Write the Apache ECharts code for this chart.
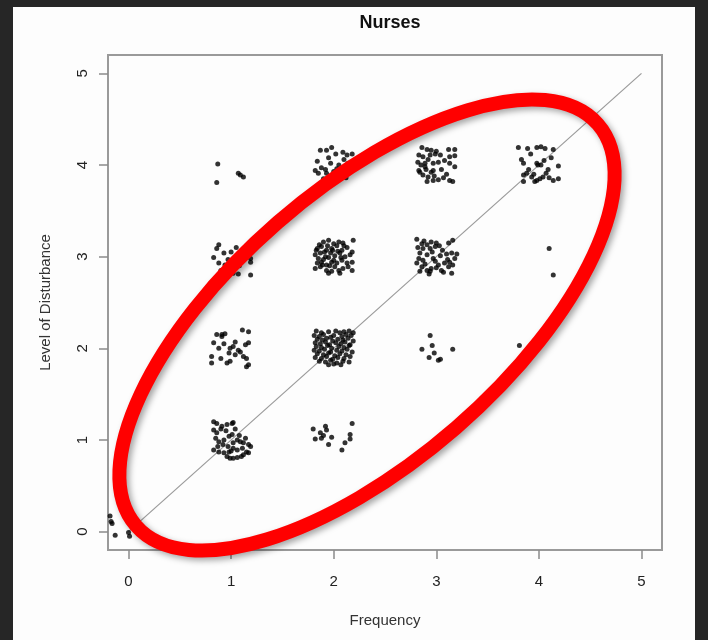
<!DOCTYPE html>
<html>
<head>
<meta charset="utf-8">
<script src="https://cdn.jsdelivr.net/npm/echarts@6/dist/echarts.min.js"></script>
<style>
  html, body { margin: 0; padding: 0; background: #262626; }
  #frame { position: absolute; left: 13px; top: 7px; width: 682px; height: 633px; background: #fdfdfd; }
  #chart { position: absolute; left: 0; top: 0; width: 708px; height: 640px; }
</style>
</head>
<body>
<div id="frame"></div>
<div id="chart"></div>
<script>
(function () {
// 刻度
var tickValues = [0, 1, 2, 3, 4, 5];
// 对角参考线
var refX = [0, 5];
var refY = [0, 5];

// 各组抖动点 (Frequency, Level of Disturbance)
var pts00 = [[-0.18, 0.17], [-0.17, 0.11], [-0.16, 0.09], [-0.13, -0.04], [0.00, -0.01], [0.01, -0.05]];
var pts11 = [[0.83, 1.20], [0.86, 1.18], [0.91, 1.15], [0.96, 1.17], [1.01, 1.18], [1.02, 1.19], [0.83, 1.11], [0.86, 1.08],
  [0.85, 1.02], [0.88, 0.98], [0.93, 1.00], [0.98, 1.04], [1.01, 1.06], [1.02, 0.97], [1.06, 1.00], [1.09, 0.98],
  [1.12, 0.97], [1.17, 0.95], [0.83, 0.89], [0.88, 0.87], [0.93, 0.86], [0.98, 0.87], [1.02, 0.91], [1.06, 0.89],
  [1.11, 0.91], [1.15, 0.87], [1.19, 0.93], [0.96, 0.82], [0.99, 0.80], [1.02, 0.80], [1.06, 0.81], [1.12, 0.84],
  [1.17, 0.86], [0.90, 1.12], [0.95, 1.10], [1.04, 1.12], [0.92, 0.95], [1.08, 1.05], [0.97, 0.93], [1.10, 0.82],
  [0.87, 0.93], [1.14, 1.02], [1.00, 0.88]];
var pts12 = [[0.86, 2.15], [0.91, 2.15], [0.94, 2.16], [1.11, 2.20], [1.17, 2.18], [0.83, 2.06], [0.93, 2.05], [1.04, 2.07],
  [1.14, 2.04], [1.17, 2.06], [0.88, 2.00], [0.99, 2.00], [1.02, 2.02], [1.09, 1.96], [0.81, 1.91], [0.90, 1.89],
  [0.98, 1.95], [1.04, 1.93], [1.12, 1.91], [1.15, 1.89], [0.81, 1.84], [0.96, 1.84], [0.99, 1.86], [1.15, 1.80],
  [1.17, 1.82], [0.91, 2.13], [1.07, 1.98]];
var pts13 = [[0.88, 3.13], [0.86, 3.09], [0.93, 3.04], [0.83, 2.99], [1.19, 2.98], [1.19, 2.94], [0.88, 2.93], [1.02, 2.82],
  [1.07, 2.81], [1.19, 2.80], [0.94, 2.91], [1.00, 3.05], [1.05, 3.10], [1.10, 3.00], [0.97, 2.97], [1.13, 3.06],
  [1.08, 2.90], [1.15, 3.12], [0.90, 2.85]];
var pts14 = [[0.87, 4.01], [0.86, 3.81], [1.07, 3.91], [1.09, 3.89], [1.12, 3.87]];
var pts21 = [[1.80, 1.12], [1.92, 1.15], [1.93, 1.11], [1.87, 1.08], [1.82, 1.01], [1.88, 1.02], [1.98, 1.03], [1.95, 0.95],
  [2.08, 0.89], [2.11, 0.97], [2.16, 1.06], [2.18, 1.18], [2.16, 1.01], [1.90, 1.05]];
var pts22 = [[1.83, 2.19], [1.88, 2.17], [1.95, 2.18], [2.02, 2.19], [2.06, 2.17], [2.10, 2.18], [2.15, 2.19], [2.19, 2.17],
  [1.81, 2.14], [1.86, 2.13], [1.90, 2.15], [1.97, 2.12], [2.00, 2.14], [2.08, 2.13], [2.12, 2.15], [2.17, 2.14],
  [1.84, 2.10], [1.89, 2.09], [1.93, 2.11], [1.99, 2.08], [2.04, 2.10], [2.09, 2.09], [2.14, 2.11], [2.19, 2.08],
  [1.82, 2.06], [1.87, 2.05], [1.92, 2.07], [1.96, 2.04], [2.02, 2.06], [2.07, 2.05], [2.11, 2.07], [2.16, 2.04],
  [1.83, 2.02], [1.88, 2.01], [1.94, 2.03], [1.98, 2.00], [2.05, 2.02], [2.10, 2.01], [2.15, 2.03],
  [1.81, 1.98], [1.86, 1.97], [1.91, 1.99], [1.97, 1.96], [2.03, 1.98], [2.08, 1.97], [2.13, 1.99], [2.18, 1.96],
  [1.84, 1.94], [1.90, 1.93], [1.95, 1.95], [2.01, 1.92], [2.06, 1.94], [2.12, 1.93],
  [1.82, 1.90], [1.88, 1.89], [1.93, 1.91], [1.99, 1.88], [2.04, 1.90], [2.10, 1.89], [2.16, 1.91],
  [1.86, 1.86], [1.92, 1.85], [1.97, 1.87], [2.03, 1.84], [2.09, 1.86], [2.15, 1.85],
  [1.95, 1.82], [2.00, 1.83], [2.07, 1.82]];
var pts23 = [[1.90, 3.16], [1.95, 3.18], [2.00, 3.14], [2.05, 3.16], [2.09, 3.15], [2.19, 3.18],
  [1.84, 3.09], [1.88, 3.11], [1.93, 3.07], [1.98, 3.09], [2.03, 3.12], [2.08, 3.07], [2.13, 3.10], [2.18, 3.05],
  [1.82, 3.02], [1.87, 3.04], [1.92, 3.00], [1.97, 3.04], [2.01, 3.01], [2.06, 3.04], [2.11, 3.00], [2.16, 3.02],
  [1.84, 2.93], [1.88, 2.94], [1.93, 2.91], [1.98, 2.94], [2.03, 2.93], [2.08, 2.96], [2.13, 2.93], [2.18, 2.94],
  [1.82, 2.87], [1.87, 2.89], [1.93, 2.85], [1.98, 2.84], [2.05, 2.85], [2.09, 2.87], [2.14, 2.89], [2.18, 2.85],
  [1.95, 2.82], [2.06, 2.82], [1.85, 2.98], [1.90, 2.97], [1.95, 2.99], [2.00, 2.96], [1.86, 3.13], [1.91, 3.05],
  [2.04, 3.06], [1.96, 2.90], [2.10, 3.12], [1.89, 2.91], [1.83, 3.07], [2.01, 2.89], [1.94, 3.12], [2.07, 2.99],
  [1.99, 3.07]];
var pts24 = [[1.87, 4.16], [1.93, 4.16], [1.98, 4.19], [2.09, 4.14], [2.13, 4.11], [1.82, 3.94], [1.85, 3.91], [1.92, 3.95],
  [1.97, 4.02], [2.03, 3.96], [2.08, 3.91], [1.98, 3.81], [2.05, 3.87], [2.16, 3.98], [2.14, 4.02], [1.93, 3.91],
  [1.88, 3.97], [2.00, 3.93], [2.10, 4.06], [1.95, 4.08], [2.05, 4.00], [2.18, 4.12], [1.84, 4.04], [2.12, 3.86],
  [1.90, 3.85], [2.02, 4.12]];
var pts32 = [[2.94, 2.14], [2.86, 1.99], [2.96, 2.03], [2.98, 1.95], [2.93, 1.90], [3.02, 1.87], [3.04, 1.88], [3.16, 1.99]];
var pts33 = [[2.81, 3.19], [2.86, 3.14], [2.91, 3.13], [2.95, 3.16], [3.00, 3.15], [3.12, 3.15], [3.16, 3.18], [2.87, 3.09],
  [2.94, 3.09], [2.99, 3.11], [2.84, 3.04], [2.91, 3.02], [2.97, 2.98], [3.04, 3.01], [3.10, 3.03], [3.15, 3.04],
  [3.20, 3.03], [2.81, 2.93], [2.86, 2.89], [2.91, 2.85], [2.95, 2.87], [3.00, 2.88], [3.05, 2.85], [3.12, 2.89],
  [3.16, 2.91], [2.84, 2.84], [2.94, 2.84], [3.02, 2.91], [3.08, 2.93], [3.13, 2.94], [3.15, 2.82], [2.87, 2.96],
  [2.83, 2.98], [2.89, 2.92], [2.99, 2.95], [3.06, 3.07], [3.11, 2.97], [2.96, 3.05], [3.03, 3.12], [2.88, 3.17],
  [3.07, 2.83], [2.93, 2.81], [3.18, 2.98], [2.82, 3.10]];
var pts34 = [[2.86, 4.19], [2.91, 4.17], [2.95, 4.16], [3.00, 4.15], [3.12, 4.17], [3.18, 4.17], [2.83, 4.11], [2.87, 4.09],
  [2.94, 4.11], [2.99, 4.12], [3.04, 4.11], [3.13, 4.09], [3.18, 4.10], [2.82, 4.03], [2.89, 4.02], [2.97, 4.02],
  [3.02, 4.03], [3.13, 4.02], [3.18, 3.98], [2.83, 3.94], [2.89, 3.98], [2.95, 3.92], [2.97, 3.94], [2.87, 3.89],
  [2.92, 3.87], [2.97, 3.83], [3.02, 3.84], [3.07, 3.86], [3.13, 3.83], [3.16, 3.82], [2.91, 3.82], [2.84, 3.92],
  [2.92, 4.06], [2.85, 4.00], [3.05, 3.95], [3.10, 3.90], [2.98, 3.88], [3.08, 4.05], [2.90, 3.95]];
var pts42 = [[3.81, 2.03]];
var pts43 = [[4.10, 3.09], [4.14, 2.80]];
var pts44 = [[3.80, 4.19], [3.89, 4.18], [3.98, 4.19], [4.02, 4.20], [4.06, 4.18], [4.14, 4.17], [3.83, 4.06], [3.85, 4.02],
  [3.98, 4.02], [4.02, 4.00], [4.09, 3.95], [4.19, 3.99], [3.85, 3.89], [3.88, 3.91], [3.93, 3.87], [3.98, 3.83],
  [4.01, 3.85], [4.04, 3.87], [4.07, 3.91], [4.14, 3.83], [4.19, 3.85], [3.85, 3.82], [3.96, 3.82], [3.99, 4.00],
  [3.90, 3.95], [4.10, 3.86], [4.05, 4.05], [3.92, 4.12], [4.12, 4.08], [3.95, 3.90]];

var allPts = [].concat(pts00, pts11, pts12, pts13, pts14, pts21, pts22, pts23, pts24,
  pts32, pts33, pts34, pts42, pts43, pts44);

var myChart = echarts.init(document.getElementById('chart'));
var fontFam = '"Liberation Sans", Arial, sans-serif';
var tickColor = '#8a8a8a';

var option = {
  animation: false,
  title: {
    text: 'Nurses',
    left: 385,
    top: 9,
    textAlign: 'center',
    textStyle: { fontFamily: fontFam, fontSize: 18, fontWeight: 'bold', color: '#111' }
  },
  grid: {
    left: 108, right: 46, top: 55, bottom: 90,
    show: true, borderColor: '#9a9a9a', borderWidth: 2, backgroundColor: 'transparent'
  },
  xAxis: {
    type: 'value', min: -0.2, max: 5.2,
    name: 'Frequency', nameLocation: 'middle', nameGap: 63,
    nameTextStyle: { fontFamily: fontFam, fontSize: 15, color: '#333' },
    splitLine: { show: false },
    axisLine: { show: false, onZero: false },
    axisTick: { show: true, length: 9, customValues: tickValues, lineStyle: { color: tickColor, width: 1.5 } },
    axisLabel: { customValues: tickValues, margin: 24, fontFamily: fontFam, fontSize: 15, color: '#222' }
  },
  yAxis: {
    type: 'value', min: -0.2, max: 5.2,
    name: 'Level of Disturbance', nameLocation: 'middle', nameGap: 55,
    nameTextStyle: { fontFamily: fontFam, fontSize: 15, color: '#333' },
    splitLine: { show: false },
    axisLine: { show: false, onZero: false },
    axisTick: { show: true, length: 9, customValues: tickValues, lineStyle: { color: tickColor, width: 1.5 } },
    axisLabel: { customValues: tickValues, rotate: 90, margin: 18, fontFamily: fontFam, fontSize: 15, color: '#222' }
  },
  series: [
    {
      type: 'line',
      data: refX.map(function (v, i) { return [v, refY[i]]; }),
      symbol: 'none',
      lineStyle: { color: '#9a9a9a', width: 1.2 },
      z: 1
    },
    {
      type: 'scatter',
      data: allPts,
      symbol: 'circle',
      symbolSize: 5,
      itemStyle: { color: '#000' },
      z: 2
    }
  ],
  // 红色椭圆标注
  graphic: [{
    type: 'ellipse',
    x: 367, y: 325,
    rotation: 41 * Math.PI / 180,
    shape: { cx: 0, cy: 0, rx: 306, ry: 136 },
    style: {
      fill: 'none', stroke: '#ff0000', lineWidth: 14,
      shadowBlur: 6, shadowColor: 'rgba(0,0,0,0.35)', shadowOffsetX: 3, shadowOffsetY: 3
    },
    z: 100
  }]
};

myChart.setOption(option);
window.addEventListener('resize', function () {
  myChart.resize();
});
})();
</script>
</body>
</html>
